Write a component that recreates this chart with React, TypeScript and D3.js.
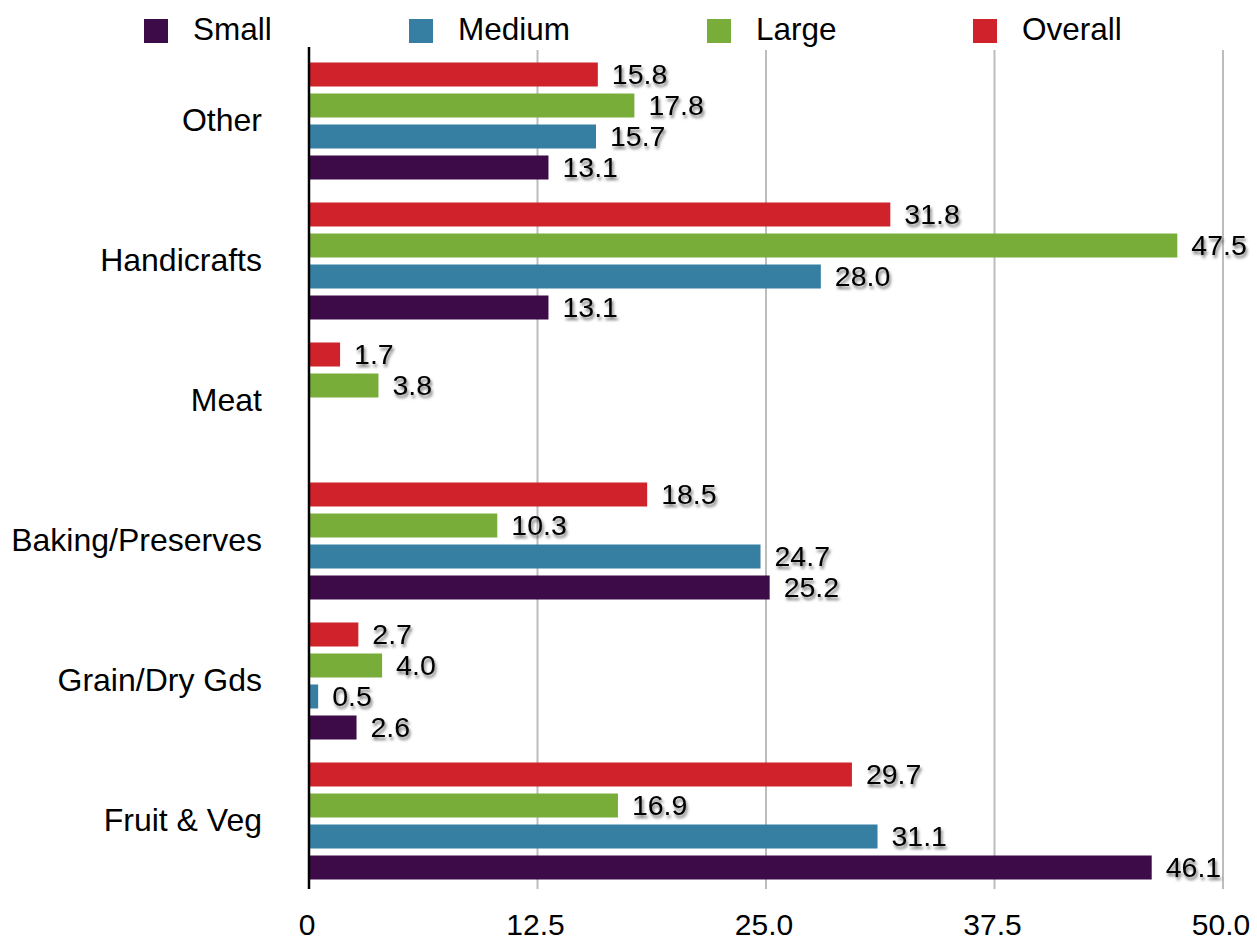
import React from "react";
import * as d3 from "d3";

// Market share by vendor size, per product category (%)
const categories = ["Other", "Handicrafts", "Meat", "Baking/Preserves", "Grain/Dry Gds", "Fruit & Veg"];
const seriesNames = ["Small", "Medium", "Large", "Overall"];
const small: (number | null)[] = [13.1, 13.1, null, 25.2, 2.6, 46.1];
const medium: (number | null)[] = [15.7, 28.0, null, 24.7, 0.5, 31.1];
const large: (number | null)[] = [17.8, 47.5, 3.8, 10.3, 4.0, 16.9];
const overall: (number | null)[] = [15.8, 31.8, 1.7, 18.5, 2.7, 29.7];
const tickValues = [0, 12.5, 25, 37.5, 50];
const tickLabels = ["0", "12.5", "25.0", "37.5", "50.0"];

const colors: Record<string, string> = {
  Small: "#3d0b47",
  Medium: "#367fa3",
  Large: "#78ad3a",
  Overall: "#d0222b",
};

const W = 1257;
const H = 941;
const FONT = "'Liberation Sans', Arial, Helvetica, sans-serif";

export default function App() {
  const values: Record<string, (number | null)[]> = {
    Small: small,
    Medium: medium,
    Large: large,
    Overall: overall,
  };

  const x = d3.scaleLinear().domain([0, 50]).range([309, 1223]);
  const y = d3.scaleBand<string>().domain(categories).range([51, 891]);
  // bars stacked top-to-bottom: Overall, Large, Medium, Small
  const inner = d3
    .scaleBand<string>()
    .domain([...seriesNames].reverse())
    .range([0, y.bandwidth()])
    .paddingInner(0.2258)
    .paddingOuter(0.371);

  const legendX = [144, 409, 707, 973];

  return (
    <svg
      width={W}
      height={H}
      style={{ position: "absolute", left: 0, top: 0, background: "#fff" }}
      fontFamily={FONT}
    >
      <defs>
        <filter id="lblShadow" x="-20%" y="-40%" width="150%" height="190%">
          <feDropShadow dx="1.5" dy="3" stdDeviation="1.8" floodColor="#000" floodOpacity="0.55" />
        </filter>
      </defs>

      {/* legend */}
      {seriesNames.map((s, i) => (
        <g key={s}>
          <rect x={legendX[i]} y={19} width={24} height={24} fill={colors[s]} />
          <text x={legendX[i] + 49} y={40} fontSize={31.5} fill="#000">
            {s}
          </text>
        </g>
      ))}

      {/* grid lines */}
      {tickValues.slice(1).map((t) => (
        <line key={t} x1={x(t)} x2={x(t)} y1={50} y2={889} stroke="#bdbdbd" strokeWidth={2} />
      ))}

      {/* bars */}
      {categories.map((c, ci) => (
        <g key={c} transform={`translate(0,${y(c)})`}>
          {seriesNames.map((s) => {
            const v = values[s][ci];
            if (v == null) return null;
            const by = inner(s)!;
            return (
              <rect
                key={s}
                x={x(0)}
                y={by}
                width={x(v) - x(0)}
                height={inner.bandwidth()}
                fill={colors[s]}
              />
            );
          })}
        </g>
      ))}

      {/* value labels */}
      {categories.map((c, ci) => (
        <g key={c} transform={`translate(0,${y(c)})`}>
          {seriesNames.map((s) => {
            const v = values[s][ci];
            if (v == null) return null;
            const cy = inner(s)! + inner.bandwidth() / 2;
            return (
              <text
                key={s}
                x={x(v) + 14}
                y={cy + 9.5}
                fontSize={28.5}
                fill="#000"
                filter="url(#lblShadow)"
              >
                {v.toFixed(1)}
              </text>
            );
          })}
        </g>
      ))}

      {/* category axis */}
      <line x1={x(0)} x2={x(0)} y1={47} y2={889} stroke="#000" strokeWidth={2.5} />
      {categories.map((c) => (
        <text
          key={c}
          x={262}
          y={y(c)! + y.bandwidth() / 2 + 9.5}
          textAnchor="end"
          fontSize={32}
          fill="#000"
        >
          {c}
        </text>
      ))}

      {/* value axis tick labels */}
      {tickValues.map((t, i) => (
        <text key={t} x={x(t) - 2} y={935} textAnchor="middle" fontSize={30} fill="#000">
          {tickLabels[i]}
        </text>
      ))}
    </svg>
  );
}
